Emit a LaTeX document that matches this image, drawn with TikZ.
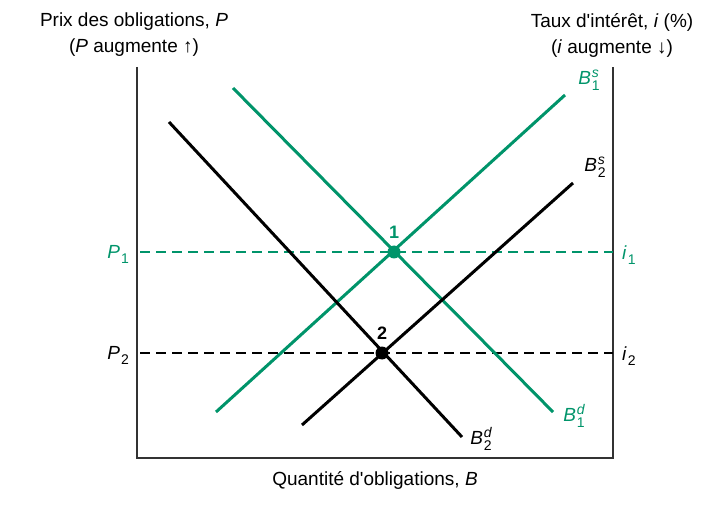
\documentclass[tikz,border=0pt]{standalone}
\usepackage{fontspec}
\setmainfont{Liberation Sans}
\usepackage{xcolor}
\definecolor{bondgreen}{RGB}{0,148,106}
\usetikzlibrary{positioning, calc}
\newcommand{\smallscr}{\fontsize{14}{14}\selectfont}
\newcommand{\bondsym}[3]{\textit{#1}\kern1pt\rlap{\raisebox{6.5pt}{\smallscr\textit{#2}}}\raisebox{-6pt}{\smallscr #3}}
\newcommand{\lvlsym}[2]{\textit{#1}\kern1pt\raisebox{-5pt}{\smallscr #2}}

\begin{document}
\begin{tikzpicture}[x=1pt, y=-1pt, font=\fontsize{19}{26}\selectfont,
  curve/.style={line width=3pt},
  level/.style={line width=1.5pt, dash pattern=on 10pt off 6pt},
  eqpt/.style={circle, fill, inner sep=0pt, minimum size=13pt},
  eqnum/.style={font=\fontsize{18}{20}\selectfont\bfseries},
  lbl/.style={inner sep=1pt}]
\useasboundingbox (0,0) rectangle (714,510);

% axes
\coordinate (ltop) at (137,67);
\coordinate (orig) at (137,458);
\coordinate (rbot) at (613,458);
\coordinate (rtop) at (613,67);
\draw[line width=2pt, draw=black!80] (ltop) -- (orig) -- (rbot) -- (rtop);

% price levels
\coordinate (p1l) at (140,252);
\coordinate (p1r) at (613,252);
\coordinate (p2l) at (140,353);
\coordinate (p2r) at (613,353);
\draw[level, bondgreen] (p1l) -- (p1r);
\draw[level] (p2l) -- (p2r);

% curve end points
\coordinate (d1a) at (233,88);
\coordinate (d1b) at (553,412);
\coordinate (s1a) at (216,412);
\coordinate (s1b) at (565,95);
\coordinate (d2a) at (169,122);
\coordinate (d2b) at (462,437);
\coordinate (s2a) at (302,425);
\coordinate (s2b) at (573,183);

\draw[curve, bondgreen] (d1a) -- (d1b);
\draw[curve, bondgreen] (s1a) -- (s1b);
\draw[curve] (d2a) -- (d2b);
\draw[curve] (s2a) -- (s2b);

% equilibria
\node[eqpt, bondgreen] (e1) at (394,252) {};
\node[eqpt] (e2) at (382,353) {};
\node[eqnum, text=bondgreen, above=3pt of e1] (n1) {1};
\node[eqnum, above=3pt of e2] (n2) {2};

% labels
\node[lbl, text=bondgreen] (bs1) at (589,80) {\bondsym{B}{s}{1}};
\node[lbl] (bs2) at (595,167) {\bondsym{B}{s}{2}};
\node[lbl, text=bondgreen] (bd1) at (574,416) {\bondsym{B}{d}{1}};
\node[lbl] (bd2) at (481,439) {\bondsym{B}{d}{2}};
\node[lbl, text=bondgreen, anchor=east] (lp1) at (130,254) {\lvlsym{P}{1}};
\node[lbl, anchor=east] (lp2) at (130,355) {\lvlsym{P}{2}};
\node[lbl, text=bondgreen, anchor=west] (li1) at (621,255) {\lvlsym{i}{1}};
\node[lbl, anchor=west] (li2) at (621,356) {\lvlsym{i}{2}};

\node[align=center] (yleft) at (134,35) {Prix des obligations, \textit{P}\\(\textit{P} augmente ↑)};
\node[align=center] (yright) at (612,35) {Taux d\textquotesingle intérêt, \textit{i} (\%)\\(\textit{i} augmente ↓)};
\node (xlab) at (375,480) {Quantité d\textquotesingle obligations, \textit{B}};
\end{tikzpicture}
\end{document}
